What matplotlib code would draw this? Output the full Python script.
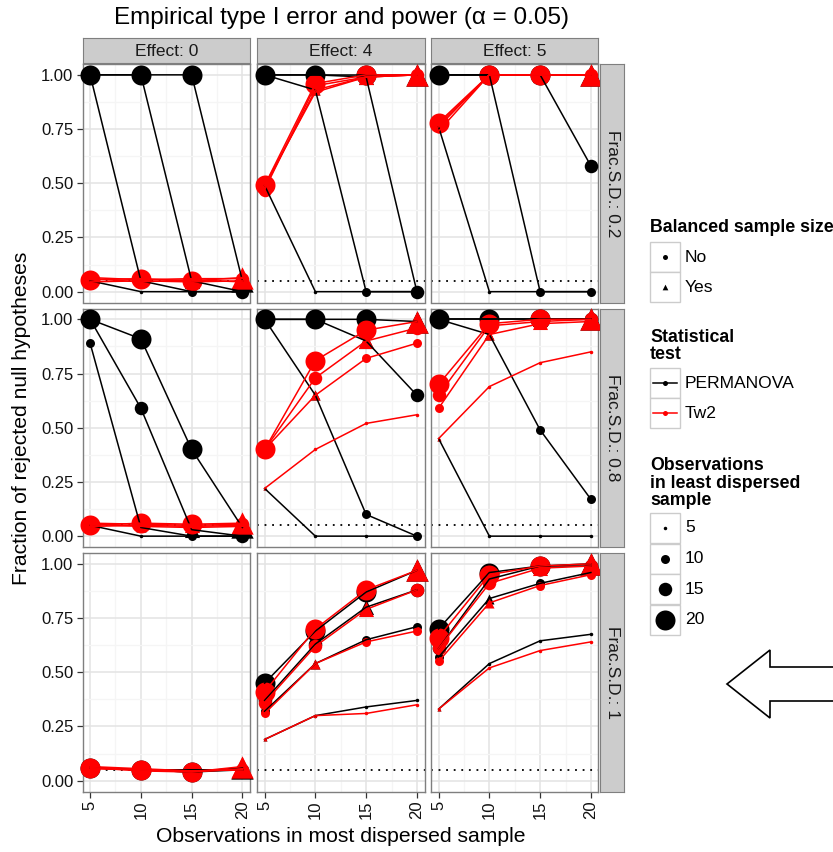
import numpy as np
import matplotlib.pyplot as plt
import matplotlib.patches as patches

plt.rcParams['font.family'] = ['Liberation Sans', 'DejaVu Sans']

# x axis: observations in most dispersed sample; size/group: observations in least dispersed sample
obs_most = [5, 10, 15, 20]
obs_least = [5, 10, 15, 20]
effects = [0, 4, 5]
frac_sd = ['0.2', '0.8', '1']
alpha_level = 0.05

# each table: rows = least dispersed n (5, 10, 15, 20), cols = most dispersed n (5, 10, 15, 20)
perm_f02_e0 = [[0.05, 0.00, 0.00, 0.00], [1.00, 0.05, 0.00, 0.00], [1.00, 1.00, 0.05, 0.00], [1.00, 1.00, 1.00, 0.05]]
tw2_f02_e0 = [[0.045, 0.05, 0.045, 0.05], [0.06, 0.045, 0.055, 0.045], [0.065, 0.055, 0.06, 0.06], [0.055, 0.06, 0.05, 0.065]]
perm_f02_e4 = [[0.49, 0.00, 0.00, 0.00], [1.00, 0.93, 0.00, 0.00], [1.00, 1.00, 0.99, 0.00], [1.00, 1.00, 1.00, 1.00]]
tw2_f02_e4 = [[0.49, 0.92, 0.99, 1.00], [0.48, 0.93, 0.99, 1.00], [0.47, 0.95, 0.99, 1.00], [0.49, 0.96, 1.00, 1.00]]
perm_f02_e5 = [[0.76, 0.00, 0.00, 0.00], [1.00, 1.00, 0.00, 0.00], [1.00, 1.00, 1.00, 0.58], [1.00, 1.00, 1.00, 1.00]]
tw2_f02_e5 = [[0.74, 1.00, 1.00, 1.00], [0.76, 1.00, 1.00, 1.00], [0.77, 1.00, 1.00, 1.00], [0.78, 1.00, 1.00, 1.00]]

perm_f08_e0 = [[0.05, 0.00, 0.00, 0.00], [0.89, 0.04, 0.00, 0.00], [1.00, 0.59, 0.03, 0.00], [1.00, 0.91, 0.40, 0.04]]
tw2_f08_e0 = [[0.045, 0.05, 0.045, 0.05], [0.055, 0.045, 0.04, 0.045], [0.06, 0.055, 0.05, 0.055], [0.05, 0.06, 0.055, 0.06]]
perm_f08_e4 = [[0.22, 0.00, 0.00, 0.00], [1.00, 0.65, 0.10, 0.00], [1.00, 1.00, 0.90, 0.65], [1.00, 1.00, 1.00, 0.99]]
tw2_f08_e4 = [[0.22, 0.40, 0.52, 0.56], [0.40, 0.65, 0.82, 0.89], [0.40, 0.73, 0.90, 0.96], [0.40, 0.81, 0.95, 0.99]]
perm_f08_e5 = [[0.45, 0.00, 0.00, 0.00], [1.00, 0.93, 0.49, 0.17], [1.00, 1.00, 1.00, 1.00], [1.00, 1.00, 1.00, 1.00]]
tw2_f08_e5 = [[0.45, 0.69, 0.80, 0.85], [0.59, 0.93, 0.98, 0.99], [0.65, 0.97, 0.99, 1.00], [0.70, 0.98, 1.00, 1.00]]

perm_f1_e0 = [[0.06, 0.05, 0.04, 0.05], [0.06, 0.05, 0.05, 0.05], [0.06, 0.05, 0.05, 0.05], [0.06, 0.05, 0.04, 0.06]]
tw2_f1_e0 = [[0.055, 0.05, 0.045, 0.05], [0.06, 0.045, 0.04, 0.055], [0.065, 0.055, 0.045, 0.05], [0.06, 0.05, 0.04, 0.065]]
perm_f1_e4 = [[0.19, 0.30, 0.34, 0.37], [0.32, 0.54, 0.65, 0.71], [0.37, 0.63, 0.80, 0.88], [0.45, 0.69, 0.87, 0.97]]
tw2_f1_e4 = [[0.19, 0.30, 0.31, 0.35], [0.31, 0.54, 0.64, 0.69], [0.36, 0.62, 0.79, 0.88], [0.41, 0.70, 0.88, 0.97]]
perm_f1_e5 = [[0.33, 0.54, 0.645, 0.675], [0.57, 0.84, 0.91, 0.96], [0.61, 0.93, 0.99, 0.99], [0.70, 0.96, 0.99, 1.00]]
tw2_f1_e5 = [[0.33, 0.52, 0.60, 0.64], [0.55, 0.82, 0.90, 0.95], [0.61, 0.91, 0.98, 0.99], [0.66, 0.95, 0.99, 1.00]]

perm_tables = [[perm_f02_e0, perm_f02_e4, perm_f02_e5],
               [perm_f08_e0, perm_f08_e4, perm_f08_e5],
               [perm_f1_e0, perm_f1_e4, perm_f1_e5]]
tw2_tables = [[tw2_f02_e0, tw2_f02_e4, tw2_f02_e5],
              [tw2_f08_e0, tw2_f08_e4, tw2_f08_e5],
              [tw2_f1_e0, tw2_f1_e4, tw2_f1_e5]]

W, H = 833, 852
fig = plt.figure(figsize=(W / 100, H / 100), dpi=100)

def px_axes(x0, y0, x1, y1, **kw):
    return fig.add_axes([x0 / W, 1 - y1 / H, (x1 - x0) / W, (y1 - y0) / H], **kw)

col_px = [(82.5, 250), (257, 424.5), (431, 598.5)]
row_px = [(64, 302.5), (308.5, 547), (553, 791.5)]
dia_px = {5: 3.5, 10: 9.0, 15: 13.5, 20: 20.0}
msize = {n: (d * 0.72) ** 2 for n, d in dia_px.items()}
border = '#7F7F7F'

for ri in range(3):
    for ci in range(3):
        x0, x1 = col_px[ci]
        y0, y1 = row_px[ri]
        ax = px_axes(x0, y0, x1, y1)
        ax.set_xlim(4.25, 20.75)
        ax.set_ylim(-0.05, 1.05)
        ax.set_xticks(obs_most)
        ax.set_xticks([7.5, 12.5, 17.5], minor=True)
        ax.set_yticks([0, 0.25, 0.5, 0.75, 1.0])
        ax.set_yticks([0.125, 0.375, 0.625, 0.875], minor=True)
        ax.grid(which='major', color='#E3E3E3', lw=1.1)
        ax.grid(which='minor', color='#F5F5F5', lw=0.9)
        ax.set_axisbelow(True)
        for sp in ax.spines.values():
            sp.set_color(border)
            sp.set_linewidth(1.0)
        ax.axhline(alpha_level, color='black', ls=(0, (1, 3.2)), lw=1.3, zorder=2)

        tests = [(np.array(perm_tables[ri][ci]), 'black', 3, 5),
                 (np.array(tw2_tables[ri][ci]), '#FF0000', 4, 6)]
        for vals, col, zp, zl in tests:
            for j, n2 in enumerate(obs_least):
                circ = [k for k, n1 in enumerate(obs_most) if n1 != n2]
                tri = [k for k, n1 in enumerate(obs_most) if n1 == n2]
                ax.scatter([obs_most[k] for k in circ], vals[j, circ], s=msize[n2], marker='o',
                           color=col, linewidths=0, zorder=zp, clip_on=False)
                ax.scatter([obs_most[k] for k in tri], vals[j, tri], s=msize[n2] * 1.25, marker='^',
                           color=col, linewidths=0, zorder=zp, clip_on=False)
        for vals, col, zp, zl in tests:
            for j, n2 in enumerate(obs_least):
                ax.plot(obs_most, vals[j], color=col, lw=1.1, zorder=zl)

        ax.tick_params(which='minor', length=0)
        ax.tick_params(which='major', length=4.5, width=0.9, color='#333333', labelsize=12,
                       labelcolor='#111111', pad=2)
        ax.tick_params(left=(ci == 0), labelleft=(ci == 0), bottom=(ri == 2), labelbottom=(ri == 2))
        if ci == 0:
            ax.set_yticklabels(['0.00', '0.25', '0.50', '0.75', '1.00'])
        if ri == 2:
            ax.set_xticklabels([str(v) for v in obs_most])
            ax.tick_params(axis='x', labelrotation=90)

# facet strips
for ci, eff in enumerate(effects):
    x0, x1 = col_px[ci]
    sax = px_axes(x0, 38, x1, 63)
    sax.set_facecolor('#CCCCCC')
    sax.set_xticks([]); sax.set_yticks([])
    for sp in sax.spines.values():
        sp.set_color(border)
    sax.text(0.5, 0.47, 'Effect: %d' % eff, ha='center', va='center', fontsize=12.5,
             color='#1a1a1a', transform=sax.transAxes)

for ri, fr in enumerate(frac_sd):
    y0, y1 = row_px[ri]
    sax = px_axes(600, y0, 624, y1)
    sax.set_facecolor('#CCCCCC')
    sax.set_xticks([]); sax.set_yticks([])
    for sp in sax.spines.values():
        sp.set_color(border)
    sax.text(0.5, 0.5, 'Frac.S.D.: ' + fr, ha='center', va='center', fontsize=12.5, rotation=-90,
             color='#1a1a1a', transform=sax.transAxes)

fig.text(341 / W, 1 - 18 / H, 'Empirical type I error and power (\u03b1 = 0.05)', ha='center',
         va='center', fontsize=17.5)
fig.text(341 / W, 1 - 836 / H, 'Observations in most dispersed sample', ha='center', va='center', fontsize=15.2)
fig.text(22 / W, 1 - 418 / H, 'Fraction of rejected null hypotheses', ha='center', va='center',
         fontsize=15.2, rotation=90)

# legends and arrow, drawn in pixel coordinates
ov = fig.add_axes([0, 0, 1, 1])
ov.set_xlim(0, W)
ov.set_ylim(H, 0)
ov.axis('off')
ov.patch.set_alpha(0)

def key_box(y_top):
    ov.add_patch(patches.Rectangle((650, y_top), 30, 30, facecolor='white', edgecolor='#CCCCCC', lw=1))

leg_fs = 12.6
title_fs = 12.8
ov.text(650, 228, 'Balanced sample size', fontsize=title_fs, fontweight='bold', va='center', ha='left')
for yt, mk, lab in [(242, 'o', 'No'), (272, '^', 'Yes')]:
    key_box(yt)
    ov.scatter([665], [yt + 15], s=(5.0 * 0.72) ** 2 * (1.3 if mk == '^' else 1), marker=mk,
               color='black', linewidths=0)
    ov.text(685, yt + 15, lab, fontsize=leg_fs, va='center', ha='left')

ov.text(650, 346, 'Statistical\ntest', fontsize=title_fs, fontweight='bold', va='center', ha='left',
        linespacing=1.05)
for yt, col, lab in [(368, 'black', 'PERMANOVA'), (398, '#FF0000', 'Tw2')]:
    key_box(yt)
    ov.plot([653, 677], [yt + 15, yt + 15], color=col, lw=1.1)
    ov.scatter([665], [yt + 15], s=(5.0 * 0.72) ** 2, color=col, linewidths=0)
    ov.text(685, yt + 15, lab, fontsize=leg_fs, va='center', ha='left')

ov.text(650, 483, 'Observations\nin least dispersed\nsample', fontsize=title_fs, fontweight='bold',
        va='center', ha='left', linespacing=1.05)
for i, n in enumerate(obs_least):
    yt = 513 + i * 30.6
    key_box(yt)
    ov.scatter([665], [yt + 15], s=msize[n], color='black', linewidths=0)
    ov.text(685, yt + 15, str(n), fontsize=leg_fs, va='center', ha='left')

arrow = patches.Polygon([(727, 684), (770, 650), (770, 667), (845, 667), (845, 701), (770, 701), (770, 718)],
                        closed=True, facecolor='white', edgecolor='black', lw=1.2)
ov.add_patch(arrow)

fig.savefig('out.png', dpi=100)
